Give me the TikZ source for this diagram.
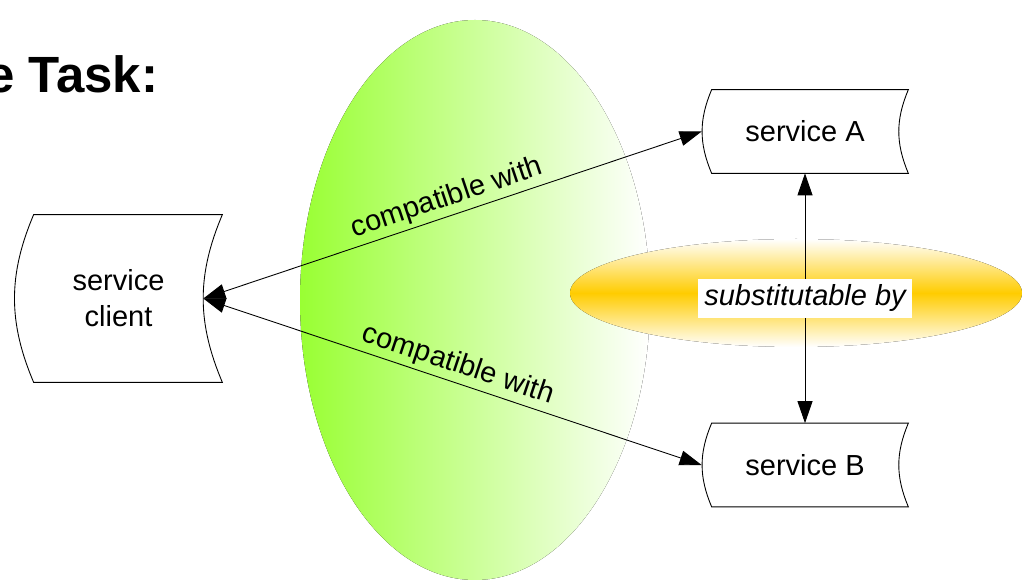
\documentclass[tikz,border=0pt]{standalone}
\usepackage{fontspec}
\setmainfont{Liberation Sans}
\usetikzlibrary{arrows.meta,calc}

\definecolor{fitgreen}{RGB}{153,255,51}
\definecolor{subsorange}{RGB}{255,204,0}

\def\px{0.2mm}
\tikzstyle{service}=[draw=none, inner sep=0pt, align=center, font=\fontsize{16.5}{20.5}\selectfont]
\tikzstyle{relation}=[inner sep=2pt, font=\fontsize{16.5}{20}\selectfont]
\tikzstyle{outline}=[line width=0.5pt]

\begin{document}
\begin{tikzpicture}[x=\px, y=-\px, >={Triangle[length=4.4mm, width=3mm]}] % y grows downwards
  \useasboundingbox (0,0) rectangle (1022,580);

  % shaded backgrounds
  \fill[left color=fitgreen, right color=white] (475,300) ellipse [x radius=175, y radius=280];
  \fill[top color=white, bottom color=white, middle color=subsorange] (796,293) ellipse [x radius=226, y radius=54];

  % heading, cut at the left border
  \node[anchor=base west, inner sep=0pt, font=\fontsize{29}{34}\selectfont\bfseries] (title) at (-14,93) {e Task:};

  % service nodes
  \node[service, minimum width=207*\px, minimum height=167*\px] (client) at (118.5,298.5) {service\\client};
  \node[service, minimum width=206*\px, minimum height=83*\px] (servA) at (805,131.5) {service A};
  \node[service, minimum width=206*\px, minimum height=83*\px] (servB) at (805,465) {service B};

  % scroll shaped borders
  \foreach \n/\d in {client/19, servA/10, servB/10}
    \draw[outline] ($(\n.north west)+(\d,0)$) -- (\n.north east)
      to[bend right=23] (\n.south east) -- ($(\n.south west)+(\d,0)$)
      to[bend left=23] ($(\n.north west)+(\d,0)$) -- cycle;

  % client side end of the arrows
  \coordinate (client-in) at ($(client.east)+(-19,0)$);

  % relations
  \draw[outline, <->] (client-in) -- (servA.west)
    node[relation, midway, sloped, above] {compatible with};
  \draw[outline, <->] (client-in) -- (servB.west)
    node[relation, midway, sloped, above] {compatible with};
  \draw[outline, <->] (servA.south) -- (servB.north)
    node[relation, midway, fill=white, inner sep=3.4pt, font=\fontsize{16.5}{20}\selectfont\itshape] (subst) {substitutable by};
\end{tikzpicture}
\end{document}
